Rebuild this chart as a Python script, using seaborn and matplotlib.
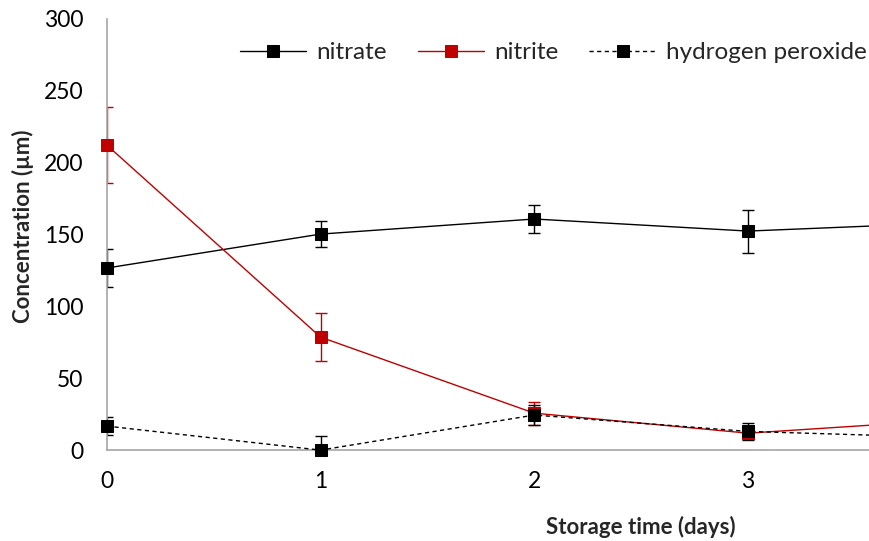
import matplotlib
matplotlib.use("Agg")
import matplotlib.pyplot as plt
import seaborn as sns
import pandas as pd

days = [0, 1, 2, 3, 4]
nitrate = [126.7, 150.3, 160.8, 152.4, 158.5]
nitrate_err = [13.0, 9.0, 9.5, 15.0, 8.0]
nitrite = [212.2, 78.6, 25.7, 11.8, 21.5]
nitrite_err = [26.5, 16.5, 8.0, 4.0, 4.0]
peroxide = [16.7, 0.0, 24.4, 13.0, 8.5]
peroxide_err = [6.5, 10.0, 7.0, 6.0, 4.0]

series = [
    ("nitrate", nitrate, nitrate_err, "#000000", "#000000", "-"),
    ("nitrite", nitrite, nitrite_err, "#c00000", "#c00000", "-"),
    ("hydrogen peroxide", peroxide, peroxide_err, "#000000", "#000000", (0, (3, 2.5))),
]

sns.set_theme(style="white")
plt.rcParams["font.family"] = ["Lato", "DejaVu Sans"]

fig = plt.figure(figsize=(8.69, 5.41), dpi=100)
ax = fig.add_axes([0.123, 0.168, 0.877, 0.797])

frames = []
for name, vals, errs, *_ in series:
    frames.append(pd.DataFrame({"day": days, "value": vals, "err": errs, "series": name}))
df = pd.concat(frames, ignore_index=True)

for name, vals, errs, lc, mc, ls in series:
    sub = df[df["series"] == name]
    ax.errorbar(sub["day"], sub["value"], yerr=sub["err"], fmt="none",
                ecolor=mc, elinewidth=1.0, capsize=4, capthick=1.0, zorder=2)
    sns.lineplot(data=sub, x="day", y="value", ax=ax, color=lc, linewidth=1.0,
                 linestyle=ls, marker="s", markersize=8.5, markerfacecolor=mc,
                 markeredgecolor=mc, label=name, zorder=3, clip_on=False)

ax.set_xlim(0, 3.566)
ax.set_ylim(0, 300)
ax.set_xticks([0, 1, 2, 3])
ax.set_yticks(range(0, 301, 50))

for side in ("top", "right"):
    ax.spines[side].set_visible(False)
for side in ("left", "bottom"):
    ax.spines[side].set_color("#a6a6a6")
    ax.spines[side].set_linewidth(1.2)
ax.tick_params(axis="both", which="major", direction="out", length=5, width=1.2,
               color="#a6a6a6", labelsize=16.5, labelcolor="#000000")
ax.tick_params(axis="y", pad=12)
ax.tick_params(axis="x", pad=10)

ax.set_xlabel("Storage time (days)", fontsize=16, fontweight="bold")
ax.set_ylabel("Concentration (\u00b5m)", fontsize=16, fontweight="bold")
ax.xaxis.set_label_coords(0.70, -0.152)
ax.yaxis.set_label_coords(-0.095, 0.52)

leg = ax.legend(loc="upper right", bbox_to_anchor=(1.0, 0.952), ncol=3, frameon=False,
                fontsize=17.5, handlelength=2.75, columnspacing=1.27, handletextpad=0.4,
                borderaxespad=0.0, borderpad=0.1)
for line in leg.get_lines():
    line.set_markersize(8)

fig.savefig("out.png", dpi=100)
